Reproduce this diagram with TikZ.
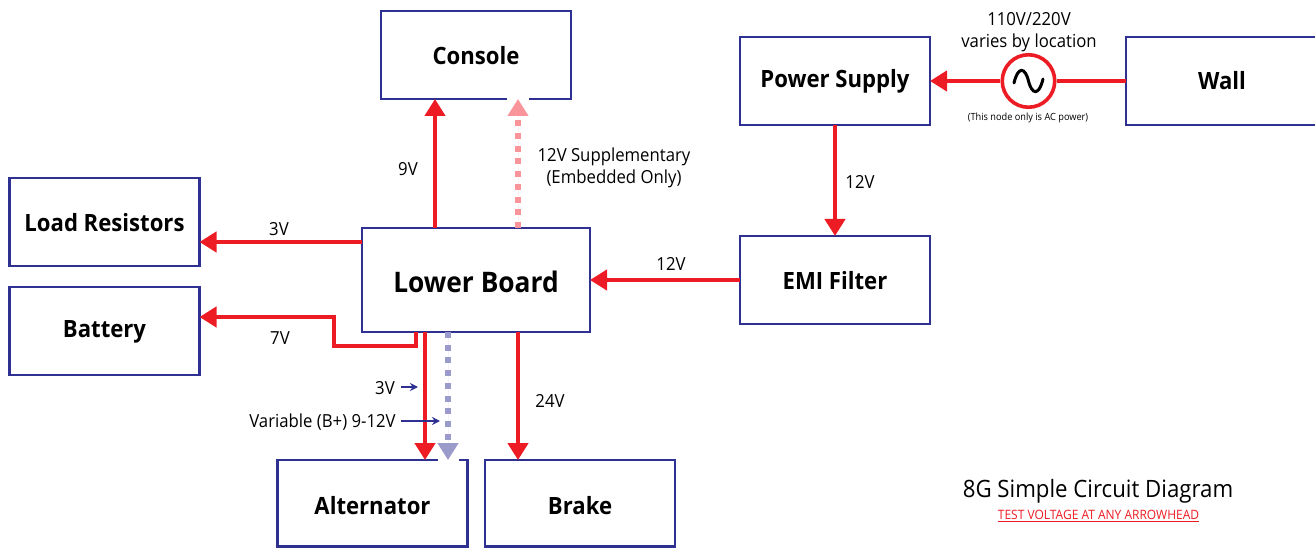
\documentclass[tikz,border=0pt]{standalone}
\usepackage{fontspec}
\setmainfont{Open Sans}[FakeStretch=0.93]
\usetikzlibrary{arrows.meta}
\definecolor{navy}{HTML}{2E3192}
\definecolor{pw}{HTML}{ED1C24}
\definecolor{pale}{HTML}{F9959A}
\definecolor{lav}{HTML}{9A9ACB}
\newcommand{\fs}[1]{\fontsize{#1}{#1}\selectfont}
\tikzset{
  x=1pt,y=-1pt,
  blk/.style={draw=navy,line width=2.2pt,fill=white,minimum width=#1,inner sep=0pt,outer sep=0pt,font=\fs{23.8}\bfseries,text=black,text height=19pt,text depth=0pt},
  blk/.default=190pt,
  r88/.style={minimum height=88pt},
  lab/.style={inner sep=0pt,font=\fs{18},text=black,align=center},
  tip/.style={-{Triangle[length=17pt,width=20pt]}},
  wire/.style={draw=pw,line width=4.4pt,line join=miter},
  power/.style={wire,tip},
  soft/.style={line width=5.2pt,dash pattern=on 6pt off 6.7pt,
     -{Triangle[length=17pt,width=20pt]}},
  note/.style={draw=navy,line width=2pt,-{Stealth[length=8pt,width=8pt]}},
  gap/.style={draw=white,line width=3pt}
}
\begin{document}
\begin{tikzpicture}
\useasboundingbox (0,0) rectangle (1315,548);
\fill[white] (0,0) rectangle (1315,548);
\node[blk,r88] (console) at (476,55) {Console};
\node[blk,r88,text height=17pt,text depth=4pt] (psu) at (835,81) {Power Supply};
\node[blk=192pt,r88,text height=17pt] (wall) at (1222,81) {Wall};
\node[blk,r88] (load) at (104.5,222) {Load Resistors};
\node[blk=228pt,minimum height=104pt,font=\fs{28.3}\bfseries,text height=24pt] (lower) at (476,280) {Lower Board};
\node[blk,r88] (emi) at (835,280) {EMI Filter};
\node[blk,r88,text height=17pt,text depth=4pt] (battery) at (104.5,331) {Battery};
\node[blk,minimum height=86.5pt,text height=22pt] (alt) at (372.5,503.3) {Alternator};
\node[blk,minimum height=86.5pt,text height=22pt] (brake) at (580,503.3) {Brake};
\node[circle,draw=pw,line width=3.6pt,minimum size=52.5pt,inner sep=0pt] (ac) at (1028.5,81) {};
\draw[black,line width=3pt,line cap=round] (1014,83) .. controls (1018,66) and (1025,67) .. (ac.center) .. controls (1032,95) and (1039,96) .. (1043,79);
% connectors
\draw[wire] (wall.west) -- (ac.east);
\draw[power] (ac.west) -- (psu.east);
\draw[power] (psu.south) -- (emi.north);
\draw[power] (emi.west) -- (lower.east);
\draw[power] ([xshift=-41pt]lower.north) -- ([xshift=-41pt]console.south);
\draw[gap] ([xshift=31pt]console.south) -- ([xshift=53pt]console.south);
\draw[soft,draw=pale,fill=pale] ([xshift=42pt]lower.north) -- ([xshift=42pt]console.south);
\draw[power] ([yshift=38pt]lower.west) -- ([yshift=-20pt]load.east);
\draw[power] ([xshift=-60pt]lower.south) -- ++(0,14) -- ++(-82,0) |- ([yshift=14pt]battery.east);
\draw[power] ([xshift=-51pt]lower.south) -- ([xshift=52.5pt]alt.north);
\draw[gap] ([xshift=65pt]alt.north) -- ([xshift=86pt]alt.north);
\draw[soft,draw=lav,fill=lav] ([xshift=-28pt]lower.south) -- ([xshift=75.5pt]alt.north);
\draw[power] ([xshift=42pt]lower.south) -- ([xshift=-62pt]brake.north);
% labels
\node[lab,align=center] (v110) at (1029,32) {110V/220V\\[4pt]varies by location};
\node[lab,font=\fs{9.9}] (acnote) at (1028,118) {(This node only is AC power)};
\node[lab] (v9) at (408,169) {9V};
\node[lab] (v12s) at (614,168) {12V Supplementary\\[4pt](Embedded Only)};
\node[lab] (v12a) at (860,182) {12V};
\node[lab] (v12b) at (671,264) {12V};
\node[lab] (v3a) at (279,229) {3V};
\node[lab] (v7) at (280,338) {7V};
\node[lab] (v24) at (550,401) {24V};
\node[lab] (v3b) at (385,388) {3V};
\node[lab] (vb) at (322.5,422) {Variable (B+) 9-12V};
\coordinate (n3) at (418,387);
\coordinate (nb) at (440,421);
\draw[note] (v3b.east) ++(6,-1) -- (n3);
\draw[note] (vb.east) ++(5,-1) -- (nb);
\node[lab,font=\fs{23.9}] (title) at (1098,491) {8G Simple Circuit Diagram};
\node[lab,font=\fs{12.9},text=pw] (sub) at (1098.5,515) {TEST VOLTAGE AT ANY ARROWHEAD};
\draw[pw,line width=0.9pt] (sub.base west) ++(0,2) -- ++(201,0);
\end{tikzpicture}
\end{document}
